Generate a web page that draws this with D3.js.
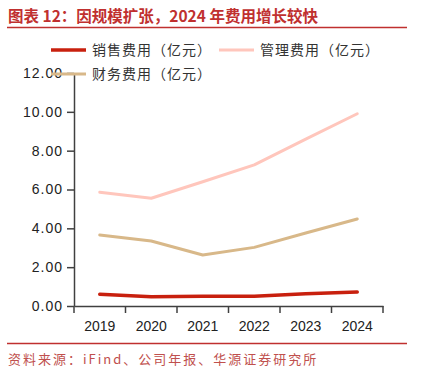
<!DOCTYPE html>
<html>
<head>
<meta charset="utf-8">
<script src="https://cdn.jsdelivr.net/npm/d3@7"></script>
<style>
  body { margin: 0; background: #fff; }
  svg { display: block; }
  .cjk { font-family: "Noto Sans CJK SC", sans-serif; }
  .axis text { font-family: "Liberation Sans", Arial, sans-serif; font-size: 14px; fill: #222; }
  .axis path, .axis line { stroke: #404040; stroke-width: 1.5; }
</style>
</head>
<body>
<div id="chart"></div>
<script>
// data (亿元)
var years = ["2019", "2020", "2021", "2022", "2023", "2024"];
var sales = [0.60, 0.48, 0.50, 0.50, 0.63, 0.72];
var admin = [5.86, 5.55, 6.40, 7.27, 8.59, 9.90];
var finance = [3.66, 3.35, 2.63, 3.02, 3.76, 4.48];
var yTicks = [0, 2, 4, 6, 8, 10, 12];

var seriesNames = ["销售费用（亿元）", "管理费用（亿元）", "财务费用（亿元）"];
var seriesColors = ["#c8200e", "#ffc6bc", "#d8b889"];
var seriesWidths = [3.5, 3, 3];

var W = 421, H = 376;
var margin = {top: 73, right: 38, bottom: 70, left: 74};

var svg = d3.select("#chart").append("svg")
  .attr("width", W)
  .attr("height", H);

// title + rules
svg.append("text")
  .attr("class", "cjk")
  .attr("x", 8).attr("y", 22)
  .attr("font-size", "15.5px")
  .attr("font-weight", "bold")
  .attr("fill", "#c0302f")
  .text("图表 12：因规模扩张，2024 年费用增长较快");

svg.append("line")
  .attr("x1", 7).attr("x2", 407).attr("y1", 27.5).attr("y2", 27.5)
  .attr("stroke", "#c0302f").attr("stroke-width", 1.5);

svg.append("line")
  .attr("x1", 7).attr("x2", 407).attr("y1", 343.5).attr("y2", 343.5)
  .attr("stroke", "#c0302f").attr("stroke-width", 1.5);

svg.append("text")
  .attr("class", "cjk")
  .attr("x", 8).attr("y", 364)
  .attr("font-size", "13px")
  .attr("letter-spacing", "2px")
  .attr("fill", "#c0504d")
  .text("资料来源：iFind、公司年报、华源证券研究所");

var x = d3.scaleBand()
  .domain(years)
  .range([margin.left, W - margin.right])
  .padding(0);

var y = d3.scaleLinear()
  .domain([0, 12])
  .range([306, margin.top]);

// y axis
svg.append("g")
  .attr("class", "axis")
  .attr("transform", "translate(" + margin.left + ",0)")
  .call(d3.axisLeft(y).tickValues(yTicks).tickFormat(d3.format(".2f")).tickSize(7).tickPadding(4).tickSizeOuter(0))
  .selectAll("text").attr("letter-spacing", "1px");

// x axis, ticks on band edges
var gx = svg.append("g")
  .attr("class", "axis")
  .attr("transform", "translate(0," + y(0) + ")")
  .call(d3.axisBottom(x).tickSize(0).tickPadding(15).tickSizeOuter(0));

var edges = years.map(function(d) { return x(d); }).concat([x.range()[1]]);
gx.selectAll(".edge")
  .data(edges)
  .enter().append("line")
  .attr("class", "edge")
  .attr("x1", function(d) { return d; })
  .attr("x2", function(d) { return d; })
  .attr("y1", 0).attr("y2", 7);

// lines
var line = d3.line()
  .x(function(d, i) { return x(years[i]) + x.bandwidth() / 2; })
  .y(function(d) { return y(d); });

var allSeries = [sales, admin, finance];
svg.selectAll(".serie")
  .data(allSeries)
  .enter().append("path")
  .attr("class", "serie")
  .attr("fill", "none")
  .attr("stroke", function(d, i) { return seriesColors[i]; })
  .attr("stroke-width", function(d, i) { return seriesWidths[i]; })
  .attr("stroke-linejoin", "round")
  .attr("stroke-linecap", "round")
  .attr("d", line);

// legend
var legendPos = [[51, 50], [219, 50], [51, 74]];
var legend = svg.selectAll(".legend")
  .data(seriesNames)
  .enter().append("g")
  .attr("class", "legend")
  .attr("transform", function(d, i) { return "translate(" + legendPos[i][0] + "," + legendPos[i][1] + ")"; });

legend.append("line")
  .attr("x1", 0).attr("x2", 35)
  .attr("stroke", function(d, i) { return seriesColors[i]; })
  .attr("stroke-width", function(d, i) { return seriesWidths[i]; });

legend.append("text")
  .attr("class", "cjk")
  .attr("x", 41)
  .attr("dy", "0.35em")
  .attr("font-size", "14px")
  .attr("letter-spacing", "1px")
  .attr("fill", "#333")
  .text(function(d) { return d; });
</script>
</body>
</html>
